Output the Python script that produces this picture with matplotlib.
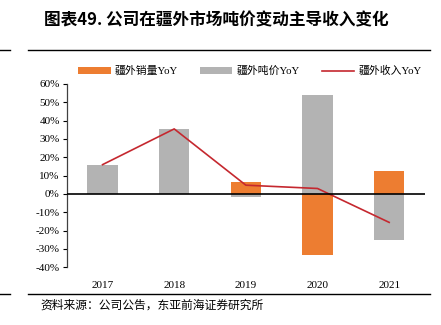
import matplotlib
matplotlib.use("Agg")
import matplotlib.pyplot as plt
from matplotlib.lines import Line2D
from matplotlib.patches import Patch

years = ["2017", "2018", "2019", "2020", "2021"]
volume_yoy = [0.0, 0.0, 6.3, -33.3, 12.6]      # 疆外销量YoY (%)
price_yoy = [16.0, 35.5, -1.9, 54.0, -25.0]     # 疆外吨价YoY (%)
revenue_yoy = [16.0, 35.5, 4.8, 3.0, -15.5]     # 疆外收入YoY (%)
y_ticks = [-40, -30, -20, -10, 0, 10, 20, 30, 40, 50, 60]

ORANGE = "#ED7D31"
GREY = "#B3B3B3"
RED = "#C5282F"

cjk = ["Noto Sans CJK SC", "DejaVu Sans"]
serif = ["Liberation Serif", "DejaVu Serif"]
mixed = ["Liberation Serif", "Noto Sans CJK SC", "DejaVu Sans"]

fig = plt.figure(figsize=(4.41, 3.25), dpi=100)
W, H = 441, 325
ax = fig.add_axes([66.7 / W, 1 - 267.3 / H, (425 - 66.7) / W, (267.3 - 84) / H])

x = list(range(len(years)))
bw = 0.42
ax.bar(x, price_yoy, width=bw, color=GREY, edgecolor="none", zorder=2)
ax.bar(x, volume_yoy, width=bw, color=ORANGE, edgecolor="none", zorder=3)
ax.plot(x, revenue_yoy, color=RED, lw=1.2, zorder=4)
ax.axhline(0, color="black", lw=1.2, zorder=5)

ax.set_xlim(-0.5, 4.5)
ax.set_ylim(-40, 60)
ax.set_yticks(y_ticks)
ax.set_yticklabels([f"{t}%" for t in y_ticks], fontfamily=serif, fontsize=8)
ax.set_xticks(x)
ax.set_xticklabels(years, fontfamily=serif, fontsize=8)
ax.tick_params(axis="x", length=0, pad=10)
ax.tick_params(axis="y", length=3, width=0.8, direction="out", pad=2)
for s in ["top", "right", "bottom"]:
    ax.spines[s].set_visible(False)
ax.spines["left"].set_color("#404040")
ax.spines["left"].set_linewidth(0.9)

handles = [
    Patch(facecolor=ORANGE, edgecolor="none"),
    Patch(facecolor=GREY, edgecolor="none"),
    Line2D([0], [0], color=RED, lw=1.2),
]
labels = ["疆外销量YoY", "疆外吨价YoY", "疆外收入YoY"]
leg = fig.legend(handles, labels, loc="center", bbox_to_anchor=(250 / W, 1 - 71 / H),
                 ncol=3, frameon=False, prop={"family": mixed, "size": 7.8},
                 handlelength=3.0, handleheight=0.6, columnspacing=2.0, handletextpad=0.4)

fig.text(216 / W, 1 - 20 / H, "图表49. 公司在疆外市场吨价变动主导收入变化", ha="center", va="center",
         fontfamily=cjk, fontsize=12, fontweight="bold")
fig.add_artist(Line2D([28 / W, 430 / W], [1 - 50 / H] * 2, color="black", lw=1.0))
fig.add_artist(Line2D([0, 10 / W], [1 - 50 / H] * 2, color="black", lw=1.0))
fig.add_artist(Line2D([28 / W, 430 / W], [1 - 294 / H] * 2, color="black", lw=1.0))
fig.add_artist(Line2D([0, 10 / W], [1 - 294 / H] * 2, color="black", lw=1.0))
fig.text(40 / W, 1 - 305 / H, "资料来源：公司公告，东亚前海证券研究所", ha="left", va="center",
         fontfamily=cjk, fontsize=8.5)

fig.savefig("out.png", dpi=100)
